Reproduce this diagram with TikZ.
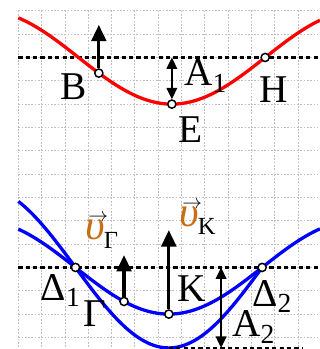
\documentclass[tikz,border=0pt]{standalone}
\usepackage{amsmath}
\usepackage{fontspec}
\setmainfont{Liberation Serif}
\usetikzlibrary{arrows.meta}
\definecolor{vcol}{RGB}{200,110,20}
\tikzset{
  gridline/.style={gray!50, dash pattern=on 1pt off 1pt, line width=0.6pt},
  eqline/.style={dash pattern=on 2.6pt off 1.9pt, line width=1.3pt},
  redwave/.style={red, line width=2pt},
  bluewave/.style={blue, line width=2pt},
  velarrow/.style={-{Triangle[length=10pt,width=9pt]}, line width=1.9pt},
  amparrow/.style={{Triangle[length=7pt,width=6.5pt]}-{Triangle[length=7pt,width=6.5pt]}, line width=1pt},
  dot/.style={circle, draw, fill=white, line width=0.9pt, inner sep=0pt, minimum size=5pt},
  lbl/.style={font=\fontsize{24}{28}\selectfont, inner sep=0pt}
}
\newcommand{\vel}[1]{\rlap{\kern2pt\raisebox{11pt}{\fontsize{13}{13}\selectfont$\rightarrow$}}{\color{vcol}\fontsize{26}{28}\selectfont\itshape υ}\kern-0.5pt\raisebox{-5pt}{\fontsize{15}{15}\selectfont #1}}

\begin{document}
\begin{tikzpicture}[x=0.5cm,y=0.5cm]
    \useasboundingbox (-0.786,0.463) rectangle (12.93,-14.496);
    % Πλέγμα
    \foreach \i in {0,...,12} \draw[gridline] (\i,0) -- (\i,-14.496);
    \foreach \j in {0,...,14} \draw[gridline] (0,-\j) -- (12.93,-\j);

    % Πάνω κύμα
    \draw[eqline] (0,-2) -- (12.93,-2);
    \draw[redwave] plot[domain=0:12.93, samples=90] (\x,{-2-2*cos(22.5*(\x-6.58))});
    \node[dot] (B) at (3.45,{-2-2*cos(22.5*(3.45-6.58))}) {};
    \node[dot] (E) at (6.58,-4) {};
    \node[dot] (H) at (10.58,-2) {};
    \coordinate (Btip) at (3.45,-0.6);
    \coordinate (Etop) at (6.58,-2);
    \draw[velarrow] (B) -- (Btip);
    \draw[amparrow] (Etop) -- (E);
    \node[lbl, anchor=base] (Blbl) at (2.39,-3.82) {Β};
    \node[lbl, anchor=base west] (A1) at (7.10,-3.22) {Α$_{\text{1}}$};
    \node[lbl, anchor=base] (Elbl) at (7.40,-5.65) {Ε};
    \node[lbl, anchor=base] (Hlbl) at (10.94,-3.91) {Η};

    % Κάτω κύματα
    \draw[eqline] (0,-11) -- (12.93,-11);
    \draw[bluewave] plot[domain=0:12.93, samples=90] (\x,{-11-2*cos(22.5*(\x-6.45))});
    \draw[bluewave] plot[domain=0:10.45, samples=80] (\x,{-11-3.45*cos(22.5*(\x-6.45))});
    \coordinate (T2) at (6.45,-14.45);
    \coordinate (T2end) at (12.2,-14.45);
    \draw[eqline] (T2) -- (T2end);
    \node[dot] (D1) at (2.45,-11) {};
    \node[dot] (D2) at (10.45,-11) {};
    \node[dot] (G) at (4.53,{-11-2*cos(22.5*(4.53-6.45))}) {};
    \node[dot] (K) at (6.45,-13) {};
    \coordinate (Gtip) at (4.53,-10.47);
    \coordinate (Ktip) at (6.45,-9.4);
    \coordinate (A2top) at (8.69,-11);
    \coordinate (A2bot) at (8.69,-14.45);
    \draw[velarrow] (G) -- (Gtip);
    \draw[velarrow] (K) -- (Ktip);
    \draw[amparrow] (A2top) -- (A2bot);
    \node[lbl, anchor=base west] (vG) at (2.85,-9.82) {\vel{Γ}};
    \node[lbl, anchor=base west] (vK) at (6.88,-9.25) {\vel{Κ}};
    \node[lbl, anchor=base west] (D1lbl) at (0.95,-12.40) {Δ$_{\text{1}}$};
    \node[lbl, anchor=base] (Glbl) at (3.29,-13.54) {Γ};
    \node[lbl, anchor=base] (Klbl) at (7.43,-12.47) {Κ};
    \node[lbl, anchor=base west] (D2lbl) at (10.02,-12.68) {Δ$_{\text{2}}$};
    \node[lbl, anchor=base west] (A2) at (9.15,-13.98) {Α$_{\text{2}}$};
\end{tikzpicture}
\end{document}
